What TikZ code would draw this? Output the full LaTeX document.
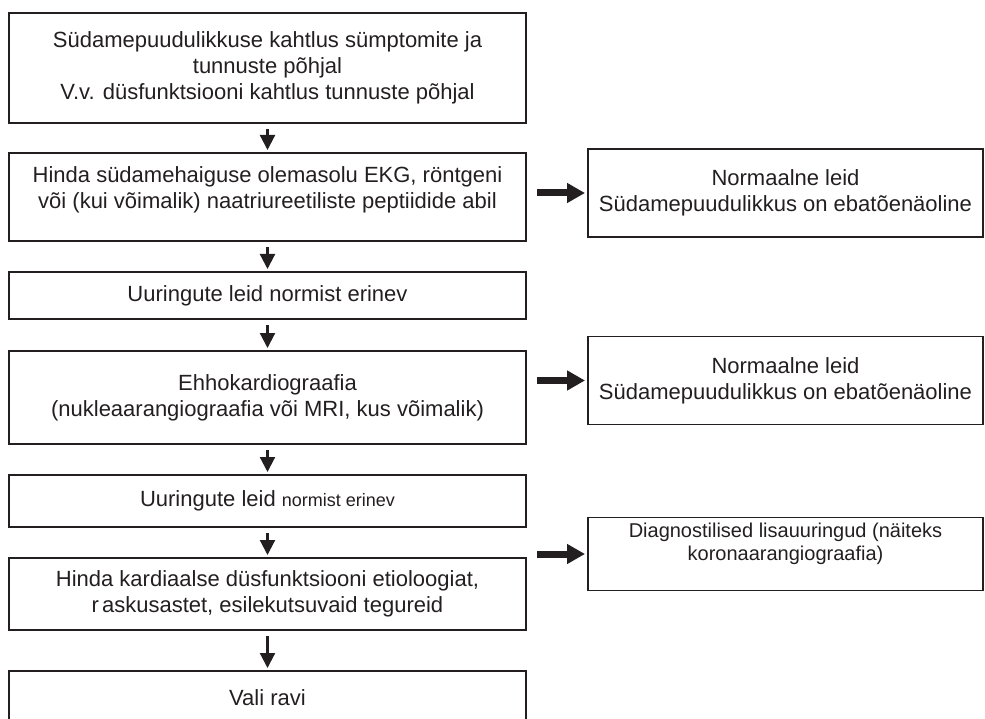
\documentclass[tikz,border=0pt]{standalone}
\usepackage{fontspec}
\setmainfont{Liberation Sans}
\usetikzlibrary{positioning,arrows.meta}
\definecolor{ink}{HTML}{231F20}

\begin{document}
\begin{tikzpicture}[x=1pt,y=-1pt,>=Triangle,
  every node/.style={shape=rectangle,draw=ink,line width=1.6pt,outer sep=0pt,
    align=center,text=ink,font=\fontsize{22}{26}\selectfont},
  mainbox/.style={minimum width=517pt},
  sidebox/.style={minimum width=395pt,minimum height=88pt},
  down/.style={draw=ink,line width=2.2pt,-{Triangle[width=15pt,length=15pt]},
    shorten <=6pt,shorten >=3pt},
  side/.style={draw=ink,line width=7pt,-{Triangle[width=19pt,length=18pt]},
    shorten <=11pt,shorten >=3pt}]
	\clip (0,0) rectangle (985,719);
	% main column
	\node (susp) [mainbox,minimum height=110pt] at (267.5,68)
		{Südamepuudulikkuse kahtlus sümptomite ja\\ tunnuste põhjal\\
		 V.v. düsfunktsiooni kahtlus tunnuste põhjal};
	\node (assess) [mainbox,minimum height=88pt,text depth=18pt,below=30pt of susp]
		{Hinda südamehaiguse olemasolu EKG, röntgeni\\
		 või (kui võimalik) naatriureetiliste peptiidide abil};
	\node (abn1) [mainbox,minimum height=47pt,below=31pt of assess]
		{Uuringute leid normist erinev};
	\node (echo) [mainbox,minimum height=93pt,below=32pt of abn1]
		{Ehhokardiograafia\\ (nukleaarangiograafia või MRI, kus võimalik)};
	\node (abn2) [mainbox,minimum height=52pt,below=31pt of echo]
		{Uuringute leid {\fontsize{18}{22}\selectfont normist erinev}};
	\node (etio) [mainbox,minimum height=72pt,below=31pt of abn2]
		{Hinda kardiaalse düsfunktsiooni etioloogiat,\\
		 r\kern3pt askusastet, esilekutsuvaid tegureid};
	\node (treat) [mainbox,minimum height=54pt,below=41pt of etio]
		{Vali ravi};

	% side boxes
	\node (norm1) [sidebox,right=62pt of assess,yshift=4pt]
		{Normaalne leid\\ Südamepuudulikkus on ebatõenäoline};
	\node (norm2) [sidebox,right=62pt of echo,yshift=17pt]
		{Normaalne leid\\ Südamepuudulikkus on ebatõenäoline};
	\node (extra) [sidebox,minimum height=73pt,text depth=24pt,right=62pt of etio,yshift=40pt,
		font=\fontsize{20}{23}\selectfont]
		{Diagnostilised lisauuringud (näiteks\\ koronaarangiograafia)};

	% flow
	\draw[down] (susp) to (assess);
	\draw[down] (assess) to (abn1);
	\draw[down] (abn1) to (echo);
	\draw[down] (echo) to (abn2);
	\draw[down] (abn2) to (etio);
	\draw[down] (etio) to (treat);

	\draw[side] (assess.east |- norm1) to (norm1);
	\draw[side] (echo.east |- norm2) to (norm2);
	\draw[side] (etio.east |- extra) to (extra);
\end{tikzpicture}
\end{document}
